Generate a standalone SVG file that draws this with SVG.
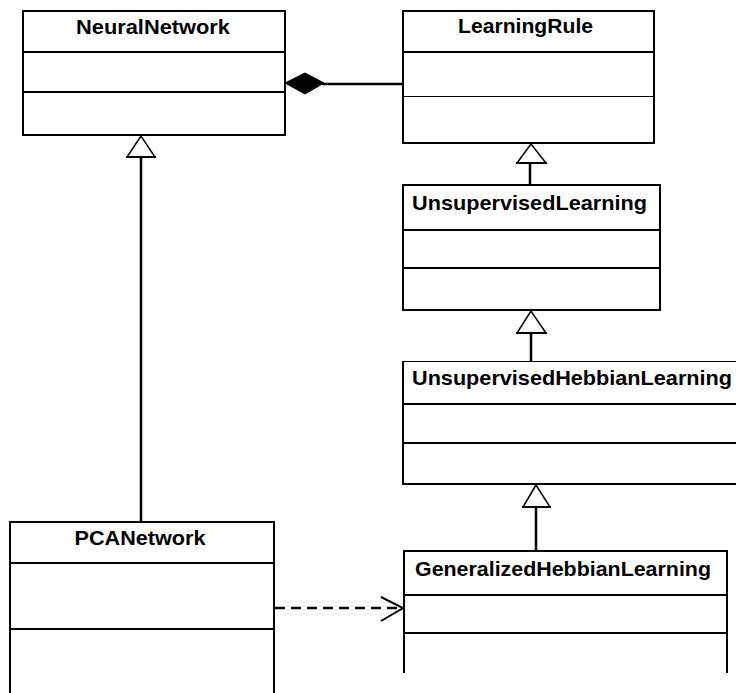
<svg xmlns="http://www.w3.org/2000/svg" width="736" height="693" viewBox="0 0 736 693">
  <style>
    .box { fill: #ffffff; stroke: #000000; stroke-width: 2; }
    .side { fill: none; stroke: #000000; stroke-width: 2; }
    .div { stroke: #000000; stroke-width: 2; }
    .thin { stroke: #000000; stroke-width: 1; }
    .title { font-family: "Liberation Sans", Arial, sans-serif; font-size: 21px; font-weight: bold; fill: #000000; }
    .edge { fill: none; stroke: #000000; stroke-width: 2.5; }
    .dash { fill: none; stroke: #000000; stroke-width: 2.5; stroke-dasharray: 10 6; }
    .head { fill: #ffffff; stroke: #000000; stroke-width: 1.5; }
    .open { fill: none; stroke: #000000; stroke-width: 2; }
  </style>
  <rect width="736" height="693" fill="#ffffff"/>

  <!-- connectors -->
  <g id="connectors">
    <!-- composition: LearningRule part of NeuralNetwork -->
    <line class="edge" x1="322" y1="84" x2="403" y2="84"/>
    <polygon points="285,83 305,73 324,83 305,94" fill="#000000" stroke="#000000" stroke-width="1"/>
    <!-- PCANetwork extends NeuralNetwork -->
    <line class="edge" x1="141" y1="157" x2="141" y2="522"/>
    <polygon class="head" points="141,136 127,157 155,157"/>
    <line class="div" x1="126" y1="157" x2="156" y2="157"/>
    <!-- UnsupervisedLearning extends LearningRule -->
    <line class="edge" x1="530" y1="163" x2="530" y2="185"/>
    <polygon class="head" points="531,144 517,163 546,163"/>
    <line class="div" x1="516" y1="163" x2="547" y2="163"/>
    <!-- UnsupervisedHebbianLearning extends UnsupervisedLearning -->
    <line class="edge" x1="531" y1="333" x2="531" y2="361"/>
    <polygon class="head" points="531,311 517,333 546,333"/>
    <line class="div" x1="516" y1="333" x2="547" y2="333"/>
    <!-- GeneralizedHebbianLearning extends UnsupervisedHebbianLearning -->
    <line class="edge" x1="536" y1="507" x2="536" y2="551"/>
    <polygon class="head" points="536,485 523,507 550,507"/>
    <line class="div" x1="522" y1="507" x2="551" y2="507"/>
    <!-- PCANetwork depends on GeneralizedHebbianLearning -->
    <line class="dash" x1="275" y1="608" x2="401" y2="608"/>
    <polyline class="open" points="381,597 403,608 381,621"/>
  </g>

  <g id="NeuralNetwork">
    <rect class="box" x="23" y="11" width="262" height="124"/>
    <line class="div" x1="23" y1="52" x2="285" y2="52"/>
    <line class="div" x1="23" y1="92" x2="285" y2="92"/>
    <text class="title" x="153" y="34" text-anchor="middle" textLength="154" lengthAdjust="spacingAndGlyphs">NeuralNetwork</text>
  </g>

  <g id="LearningRule">
    <rect class="box" x="403" y="11" width="251" height="132"/>
    <line class="div" x1="403" y1="52" x2="654" y2="52"/>
    <line class="thin" x1="403" y1="96.5" x2="654" y2="96.5"/>
    <text class="title" x="525.5" y="33" text-anchor="middle" textLength="135" lengthAdjust="spacingAndGlyphs">LearningRule</text>
  </g>

  <g id="UnsupervisedLearning">
    <rect class="box" x="403" y="185" width="257" height="125"/>
    <line class="div" x1="403" y1="230" x2="660" y2="230"/>
    <line class="div" x1="403" y1="268" x2="660" y2="268"/>
    <text class="title" x="412" y="210" textLength="235" lengthAdjust="spacingAndGlyphs">UnsupervisedLearning</text>
  </g>

  <g id="UnsupervisedHebbianLearning">
    <rect fill="#ffffff" x="403" y="361" width="340" height="123"/>
    <line class="thin" x1="403" y1="361.5" x2="740" y2="361.5"/>
    <line class="side" x1="403" y1="361" x2="403" y2="485"/>
    <line class="div" x1="403" y1="404" x2="740" y2="404"/>
    <line class="div" x1="403" y1="443" x2="740" y2="443"/>
    <line class="div" x1="402" y1="484" x2="740" y2="484"/>
    <text class="title" x="412" y="385" textLength="320" lengthAdjust="spacingAndGlyphs">UnsupervisedHebbianLearning</text>
  </g>

  <g id="GeneralizedHebbianLearning">
    <polyline class="side" points="404,673 404,551 727,551 727,673"/>
    <line class="div" x1="404" y1="595" x2="727" y2="595"/>
    <line class="div" x1="404" y1="633" x2="727" y2="633"/>
    <text class="title" x="415" y="576" textLength="296" lengthAdjust="spacingAndGlyphs">GeneralizedHebbianLearning</text>
  </g>

  <g id="PCANetwork">
    <polyline class="side" points="10,700 10,522 274,522 274,700"/>
    <line class="div" x1="10" y1="563" x2="274" y2="563"/>
    <line class="div" x1="10" y1="629" x2="274" y2="629"/>
    <text class="title" x="140" y="545" text-anchor="middle" textLength="131" lengthAdjust="spacingAndGlyphs">PCANetwork</text>
  </g>
</svg>
